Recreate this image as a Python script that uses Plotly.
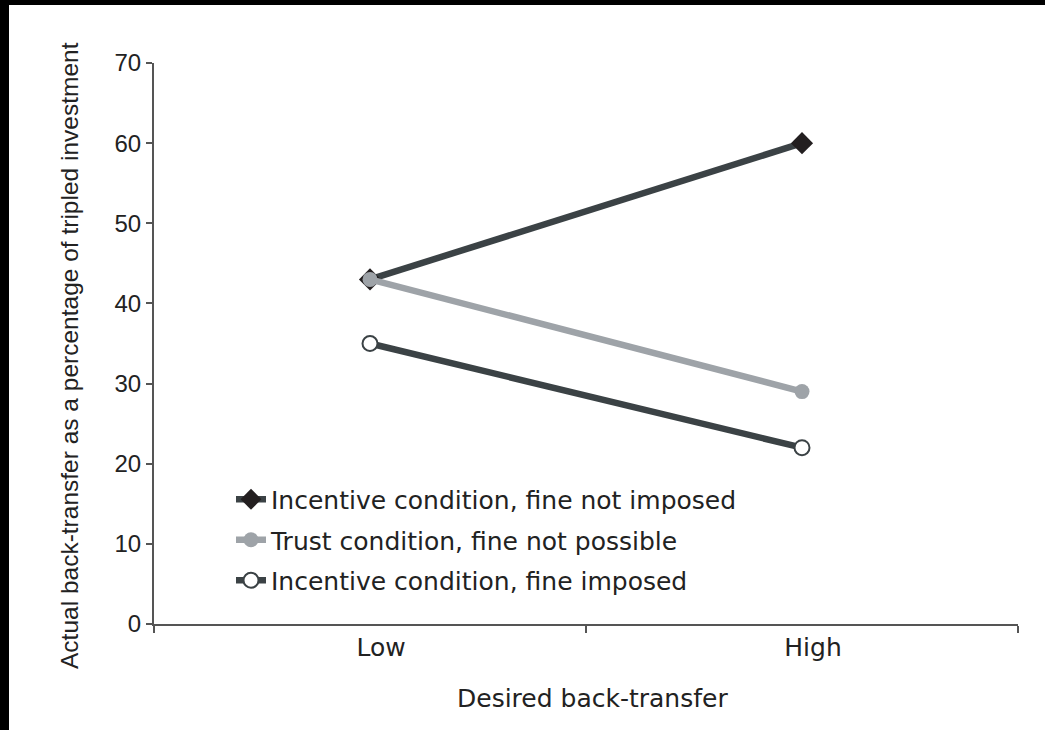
import plotly.graph_objects as go

# Desired back-transfer levels
categories = ["Low", "High"]

# Actual back-transfer (% of tripled investment)
fine_not_imposed = [43, 60]
trust_no_fine = [43, 29]
fine_imposed = [35, 22]

series_names = [
    "Incentive condition, fine not imposed",
    "Trust condition, fine not possible",
    "Incentive condition, fine imposed",
]

y_ticks = [0, 10, 20, 30, 40, 50, 60, 70]

x_title = "Desired back-transfer"
y_title = "Actual back-transfer as a percentage of tripled investment"

DARK = "#3b4245"
GREY = "#9ea3a8"
AXIS = "#555555"
TEXT = "#222222"
SANS = "Liberation Sans, Arial, Helvetica, sans-serif"
WIDE = "DejaVu Sans, Verdana, sans-serif"

fig = go.Figure()

fig.add_trace(go.Scatter(
    x=categories, y=fine_not_imposed, name=series_names[0], legendgroup="a",
    mode="lines+markers",
    line=dict(color=DARK, width=6.5),
    marker=dict(symbol="diamond", size=17, color="#231f20",
                line=dict(color="#231f20", width=0)),
))
fig.add_trace(go.Scatter(
    x=categories, y=trust_no_fine, name=series_names[1], legendgroup="b",
    mode="lines+markers",
    line=dict(color=GREY, width=6.5),
    marker=dict(symbol="circle", size=15, color=GREY,
                line=dict(color=GREY, width=0)),
))
fig.add_trace(go.Scatter(
    x=categories, y=fine_imposed, name=series_names[2], legendgroup="c",
    mode="lines+markers",
    line=dict(color=DARK, width=6.5),
    marker=dict(symbol="circle", size=15, color="white",
                line=dict(color=DARK, width=2)),
))

# plot area in pixels: left 154, right 1018, top 63, bottom 624
L, R, T, B = 154, 1018, 63, 624
W, H = 1045, 730
pw, ph = R - L, B - T


def px_x(v):
    return (v - L) / pw


def px_y(v):
    return (B - v) / ph


frame = [
    # dark frame strips along the top and left edges
    dict(type="rect", xref="paper", yref="paper",
         x0=px_x(0), x1=px_x(W), y0=px_y(5), y1=px_y(0),
         fillcolor="black", line=dict(width=0), layer="above"),
    dict(type="rect", xref="paper", yref="paper",
         x0=px_x(0), x1=px_x(9), y0=px_y(H), y1=px_y(0),
         fillcolor="black", line=dict(width=0), layer="above"),
]

titles = [
    dict(text=x_title, xref="paper", yref="paper",
         x=px_x(592), y=px_y(698), xanchor="center", yanchor="middle",
         showarrow=False, font=dict(family=WIDE, size=25, color=TEXT)),
    dict(text=y_title, xref="paper", yref="paper", textangle=-90,
         x=px_x(70), y=px_y(356), xanchor="center", yanchor="middle",
         showarrow=False, font=dict(family=SANS, size=24.5, color=TEXT)),
]

fig.update_layout(
    width=W, height=H,
    margin=dict(l=L, r=W - R, t=T, b=H - B),
    paper_bgcolor="white", plot_bgcolor="white",
    font=dict(family=SANS, size=20, color=TEXT),
    shapes=frame,
    annotations=titles,
    showlegend=True,
    legend=dict(
        x=px_x(231), y=px_y(476.5), xanchor="left", yanchor="top",
        bgcolor="rgba(0,0,0,0)", traceorder="grouped", tracegroupgap=5,
        font=dict(family=WIDE, size=25, color=TEXT),
    ),
    xaxis=dict(
        type="category", tickson="boundaries", range=[-0.5, 1.5],
        showline=True, linecolor=AXIS, linewidth=2,
        ticks="outside", ticklen=7, tickwidth=2, tickcolor=AXIS,
        showgrid=False, zeroline=False,
        tickfont=dict(family=WIDE, size=25, color=TEXT), ticklabelshift=11,
    ),
    yaxis=dict(
        range=[0, 70], tickvals=y_ticks,
        showline=True, linecolor=AXIS, linewidth=2,
        ticks="outside", ticklen=6, tickwidth=1.5, tickcolor=AXIS,
        showgrid=False, zeroline=False,
        tickfont=dict(family=SANS, size=24, color=TEXT),
    ),
)

fig.write_html("out.html")
